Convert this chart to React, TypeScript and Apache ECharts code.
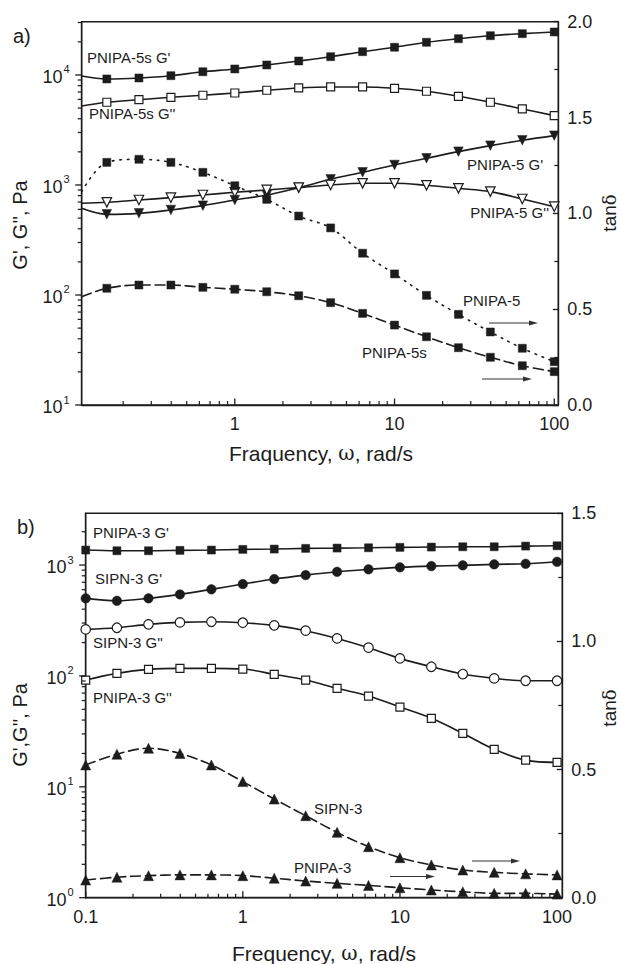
import React, { useEffect, useRef } from 'react';
import * as echarts from 'echarts';

const FONT = '"Liberation Sans", Arial, Helvetica, sans-serif';
const SERIF = '"DejaVu Serif", "Liberation Serif", serif';
const INK = '#1c1c1c';

// ---------- Panel a ----------
const freqA = [0.158, 0.251, 0.398, 0.631, 1, 1.585, 2.512, 3.981, 6.31, 10, 15.85, 25.12, 39.81, 63.1, 100];
const curveStartA = 0.11;
const pnipa5sG1 = [9200, 9390, 9850, 10700, 11340, 12330, 13400, 14660, 16280, 17860, 19820, 21380, 22760, 23740, 24600];
const pnipa5sG1Start = 9790;
const pnipa5sG2 = [5650, 5960, 6270, 6540, 6860, 7260, 7620, 7780, 7780, 7570, 7110, 6400, 5650, 4910, 4270];
const pnipa5sG2Start = 5220;
const pnipa5G1 = [541, 552, 593, 649, 730, 811, 946, 1126, 1304, 1520, 1748, 2009, 2279, 2548, 2809];
const pnipa5G1Start = 614;
const pnipa5G2 = [696, 730, 767, 811, 858, 901, 946, 1000, 1036, 1036, 993, 933, 870, 746, 635];
const pnipa5G2Start = 683;
const tanPnipa5 = [1.266, 1.282, 1.266, 1.214, 1.144, 1.073, 0.986, 0.924, 0.792, 0.684, 0.572, 0.473, 0.381, 0.296, 0.226];
const tanPnipa5Start = 1.113;
const tanPnipa5s = [0.609, 0.626, 0.626, 0.614, 0.604, 0.591, 0.57, 0.534, 0.478, 0.417, 0.356, 0.299, 0.249, 0.205, 0.174];
const tanPnipa5sStart = 0.565;

// ---------- Panel b ----------
const freqB = [0.1, 0.158, 0.251, 0.398, 0.631, 1, 1.585, 2.512, 3.981, 6.31, 10, 15.85, 25.12, 39.81, 63.1, 100];
const pnipa3G1 = [1366, 1346, 1346, 1357, 1366, 1385, 1394, 1414, 1423, 1432, 1444, 1453, 1462, 1462, 1483, 1493];
const sipn3G1 = [501, 476, 501, 544, 604, 674, 748, 812, 870, 915, 954, 979, 994, 1015, 1027, 1071];
const sipn3G2 = [263, 272, 292, 304, 308, 302, 286, 256, 218, 180, 144, 121, 104, 95, 90.5, 90.5];
const pnipa3G2 = [91.8, 105.5, 114.7, 117.1, 117.1, 115.4, 103.4, 91.8, 77.3, 65.9, 52.4, 41.5, 30.4, 21.8, 17.4, 16.6];
const tanSipn3 = [0.518, 0.56, 0.583, 0.563, 0.518, 0.453, 0.385, 0.32, 0.255, 0.199, 0.156, 0.128, 0.108, 0.099, 0.093, 0.089];
const tanPnipa3 = [0.069, 0.08, 0.086, 0.089, 0.089, 0.086, 0.076, 0.065, 0.056, 0.048, 0.039, 0.03, 0.023, 0.017, 0.017, 0.014];

// ---------- Axis ranges & tick labels ----------
const xRangeA = [0.11, 106];
const yRangeA = [10, 30500];
const xRangeB = [0.1, 108];
const yRangeB = [1, 2930];
const xTickValues = [0.1, 1, 10, 100];
const xTickLabels = ['0.1', '1', '10', '100'];
const yTickValues = [1, 10, 100, 1000, 10000];
const yTickExponents = ['0', '1', '2', '3', '4'];
const minorMultipliers = [2, 3, 4, 5, 6, 7, 8, 9];

const near = (a: number, b: number) => Math.abs(a - b) <= 1e-6 * Math.max(Math.abs(a), Math.abs(b));

const xFormatter = (v: number) => {
  const i = xTickValues.findIndex((t) => near(t, v));
  return i >= 0 ? xTickLabels[i] : '';
};
const yFormatter = (v: number) => {
  const i = yTickValues.findIndex((t) => near(t, v));
  return i >= 0 ? `{b|10}{s|${yTickExponents[i]}}` : '';
};

// decade / sub-decade tick positions inside a log range
const logTicks = (min: number, max: number) => {
  const major: number[] = [];
  const minor: number[] = [];
  for (let e = Math.floor(Math.log10(min)); e <= Math.ceil(Math.log10(max)); e++) {
    const d = Math.pow(10, e);
    if (d >= min * 0.9999 && d <= max * 1.0001) major.push(d);
    minorMultipliers.forEach((m) => {
      const v = m * d;
      if (v > min && v < max) minor.push(v);
    });
  }
  return { major, minor };
};

const axisLineStyle = { color: INK, width: 1.4 };

const mkX = (gi: number, r: number[]) => ({
  type: 'log',
  logBase: 10,
  gridIndex: gi,
  min: r[0],
  max: r[1],
  position: 'bottom',
  axisLine: { show: true, onZero: false, lineStyle: axisLineStyle },
  axisTick: { show: false },
  minorTick: { show: false },
  axisLabel: { show: true, margin: 10, fontSize: 18, fontFamily: FONT, color: INK, formatter: xFormatter },
  splitLine: { show: false },
  minorSplitLine: { show: false },
});

const mkYLog = (gi: number, r: number[]) => ({
  type: 'log',
  logBase: 10,
  gridIndex: gi,
  min: r[0],
  max: r[1],
  position: 'left',
  axisLine: { show: true, onZero: false, lineStyle: axisLineStyle },
  axisTick: { show: false },
  minorTick: { show: false },
  axisLabel: {
    show: true,
    margin: 12,
    color: INK,
    fontFamily: FONT,
    fontSize: 18,
    formatter: yFormatter,
    rich: {
      b: { fontSize: 18, fontFamily: FONT, color: INK, verticalAlign: 'bottom', lineHeight: 22 },
      s: { fontSize: 11, fontFamily: FONT, color: INK, verticalAlign: 'top', lineHeight: 22, padding: [0, 0, 0, 1] },
    },
  },
  splitLine: { show: false },
  minorSplitLine: { show: false },
});

const mkYTan = (gi: number, max: number) => ({
  type: 'value',
  gridIndex: gi,
  min: 0,
  max,
  interval: 0.5,
  position: 'right',
  axisLine: { show: true, onZero: false, lineStyle: axisLineStyle },
  axisTick: { show: true, inside: true, length: 5.5, lineStyle: { color: INK, width: 1.3 } },
  minorTick: { show: true, splitNumber: 2, length: 4, lineStyle: { color: INK, width: 1.2 } },
  axisLabel: { show: true, margin: 9, fontSize: 18, fontFamily: FONT, color: INK, formatter: (v: number) => v.toFixed(1) },
  splitLine: { show: false },
  minorSplitLine: { show: false },
});

// tick marks drawn through the axes' own scales
const tickSeries = (xi: number, yi: number, axis: 'x' | 'y', values: number[], fixed: number, len: number, width: number) => ({
  type: 'custom',
  coordinateSystem: 'cartesian2d',
  xAxisIndex: xi,
  yAxisIndex: yi,
  silent: true,
  clip: false,
  z: 6,
  data: values.map((v) => (axis === 'x' ? [v, fixed] : [fixed, v])),
  renderItem: (_params: any, api: any) => {
    const p = api.coord([api.value(0), api.value(1)]);
    const shape =
      axis === 'x'
        ? { x1: p[0], y1: p[1], x2: p[0], y2: p[1] - len }
        : { x1: p[0] - len, y1: p[1], x2: p[0], y2: p[1] };
    return { type: 'line', shape, style: { stroke: INK, lineWidth: width } };
  },
});

const ticksFor = (xi: number, yi: number, xr: number[], yr: number[]) => {
  const xt = logTicks(xr[0], xr[1]);
  const yt = logTicks(yr[0], yr[1]);
  return [
    tickSeries(xi, yi, 'x', xt.major, yr[0], 6.5, 1.3),
    tickSeries(xi, yi, 'x', xt.minor, yr[0], 4, 1.2),
    tickSeries(xi, yi, 'y', yt.major, xr[0], 6.5, 1.3),
    tickSeries(xi, yi, 'y', yt.minor, xr[0], 4, 1.2),
  ];
};

type MarkerOpt = {
  symbol: string;
  size: number;
  open?: boolean;
  rotate?: number;
  dash?: number[] | 'solid';
};

const mkSeries = (
  name: string,
  xi: number,
  yi: number,
  xs: number[],
  ys: number[],
  m: MarkerOpt,
  start?: [number, number]
) => {
  const data: any[] = xs.map((x, i) => [x, ys[i]]);
  if (start) data.unshift({ value: start, symbol: 'none' });
  return {
    type: 'line',
    name,
    xAxisIndex: xi,
    yAxisIndex: yi,
    data,
    smooth: 0.35,
    symbol: m.symbol,
    symbolSize: m.size,
    symbolRotate: m.rotate || 0,
    showAllSymbol: true,
    clip: true,
    itemStyle: { color: m.open ? '#ffffff' : INK, borderColor: INK, borderWidth: m.open ? 1.2 : 0.5, opacity: 1 },
    lineStyle: { color: INK, width: 1.6, type: m.dash || 'solid', cap: 'round' },
    emphasis: { disabled: true },
    z: 3,
  };
};

const txt = (text: string, x: number, y: number, size = 15, align = 'left') => ({
  type: 'text',
  x,
  y,
  silent: true,
  z: 10,
  style: {
    text,
    fill: INK,
    fontSize: size,
    fontFamily: FONT,
    align,
    verticalAlign: 'middle',
    textAlign: align,
    textVerticalAlign: 'middle',
  },
});

const arrow = (x1: number, x2: number, y: number) => ({
  type: 'group',
  silent: true,
  z: 10,
  children: [
    { type: 'line', shape: { x1, y1: y, x2: x2 - 6, y2: y }, style: { stroke: '#333', lineWidth: 1.2 } },
    { type: 'polygon', shape: { points: [[x2, y], [x2 - 9, y - 2.6], [x2 - 9, y + 2.6]] }, style: { fill: '#333' } },
  ],
});

const title = (text: string, cx: number, cy: number, rotate = false, size = 20) => ({
  type: 'text',
  x: cx,
  y: cy,
  rotation: rotate ? Math.PI / 2 : 0,
  silent: true,
  z: 10,
  style: {
    text,
    fill: INK,
    fontSize: size,
    fontFamily: FONT,
    align: 'center',
    verticalAlign: 'middle',
    textAlign: 'center',
    textVerticalAlign: 'middle',
    rich: {
      w: { fontFamily: SERIF, fontSize: size - 1, fill: INK },
    },
  },
});

export default function App() {
  const ref = useRef<HTMLDivElement>(null);

  useEffect(() => {
    if (!ref.current) return;
    const chart = echarts.init(ref.current, undefined, { renderer: 'svg' });

    const option: any = {
      animation: false,
      backgroundColor: '#ffffff',
      grid: [
        { left: 81.7, top: 21.7, width: 476.6, height: 383.3, show: true, borderColor: INK, borderWidth: 1.4, backgroundColor: 'transparent' },
        { left: 85.7, top: 513.3, width: 476.6, height: 384.4, show: true, borderColor: INK, borderWidth: 1.4, backgroundColor: 'transparent' },
      ],
      xAxis: [mkX(0, xRangeA), mkX(1, xRangeB)],
      yAxis: [mkYLog(0, yRangeA), mkYTan(0, 2), mkYLog(1, yRangeB), mkYTan(1, 1.5)],
      series: [
        ...ticksFor(0, 0, xRangeA, yRangeA),
        ...ticksFor(1, 2, xRangeB, yRangeB),

        mkSeries("PNIPA-5s G'", 0, 0, freqA, pnipa5sG1, { symbol: 'rect', size: 8 }, [curveStartA, pnipa5sG1Start]),
        mkSeries("PNIPA-5s G''", 0, 0, freqA, pnipa5sG2, { symbol: 'rect', size: 8, open: true }, [curveStartA, pnipa5sG2Start]),
        mkSeries("PNIPA-5 G'", 0, 0, freqA, pnipa5G1, { symbol: 'triangle', size: 9.5, rotate: 180 }, [curveStartA, pnipa5G1Start]),
        mkSeries("PNIPA-5 G''", 0, 0, freqA, pnipa5G2, { symbol: 'triangle', size: 9.5, rotate: 180, open: true }, [curveStartA, pnipa5G2Start]),
        mkSeries('PNIPA-5 tanδ', 0, 1, freqA, tanPnipa5, { symbol: 'rect', size: 8, dash: [1.5, 6] }, [curveStartA, tanPnipa5Start]),
        mkSeries('PNIPA-5s tanδ', 0, 1, freqA, tanPnipa5s, { symbol: 'rect', size: 8, dash: [10, 5] }, [curveStartA, tanPnipa5sStart]),

        mkSeries("PNIPA-3 G'", 1, 2, freqB, pnipa3G1, { symbol: 'rect', size: 8 }),
        mkSeries("SIPN-3 G'", 1, 2, freqB, sipn3G1, { symbol: 'circle', size: 9.5 }),
        mkSeries("SIPN-3 G''", 1, 2, freqB, sipn3G2, { symbol: 'circle', size: 9.5, open: true }),
        mkSeries("PNIPA-3 G''", 1, 2, freqB, pnipa3G2, { symbol: 'rect', size: 8, open: true }),
        mkSeries('SIPN-3 tanδ', 1, 3, freqB, tanSipn3, { symbol: 'triangle', size: 10, dash: [10, 5] }),
        mkSeries('PNIPA-3 tanδ', 1, 3, freqB, tanPnipa3, { symbol: 'triangle', size: 10, dash: [10, 5] }),
      ],
      graphic: [
        txt('a)', 13, 36, 20),
        txt("PNIPA-5s G'", 87, 57),
        txt("PNIPA-5s G''", 89, 113),
        txt("PNIPA-5 G'", 543, 164, 15, 'right'),
        txt("PNIPA-5 G''", 549, 212, 15, 'right'),
        txt('PNIPA-5', 463, 300),
        txt('PNIPA-5s', 362, 352),
        arrow(489, 538, 323),
        arrow(482, 532, 379),
        title('Fraquency, {w|ω}, rad/s', 321, 453, false, 21),
        title("G', G'', Pa", 20, 225, true),
        title('tan{w|δ}', 609, 213, true, 19),

        txt('b)', 17, 527, 20),
        txt("PNIPA-3 G'", 93, 532),
        txt("SIPN-3 G'", 95, 578),
        txt("SIPN-3 G''", 93, 642),
        txt("PNIPA-3 G''", 93, 697),
        txt('SIPN-3', 314, 808),
        txt('PNIPA-3', 294, 867),
        arrow(472, 520, 861),
        arrow(390, 435, 876.5),
        title('Frequency, {w|ω}, rad/s', 324, 953, false, 21),
        title("G',G'', Pa", 20, 725, true),
        title('tan{w|δ}', 609, 708, true, 19),
      ],
    };

    chart.setOption(option);
    return () => chart.dispose();
  }, []);

  return (
    <div
      ref={ref}
      style={{ position: 'fixed', left: 0, top: 0, width: 621, height: 964, background: '#fff' }}
    />
  );
}
